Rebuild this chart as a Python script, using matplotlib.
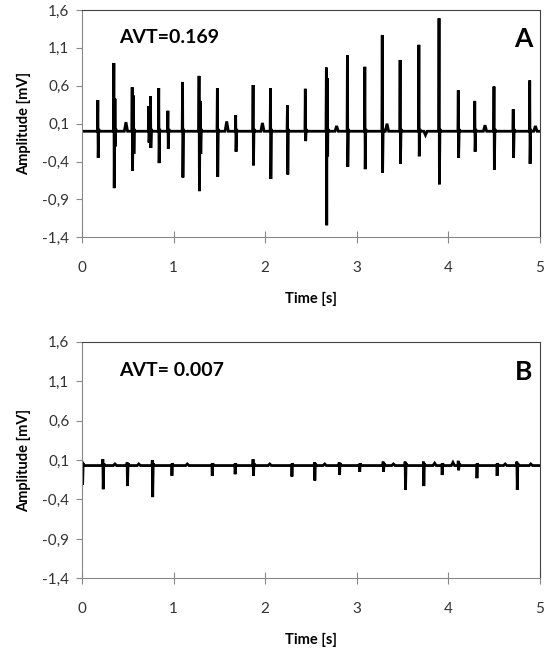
import matplotlib
matplotlib.use('Agg')
import matplotlib.pyplot as plt

plt.rcParams['font.family'] = ['Lato', 'DejaVu Sans']

# panel A: spike times [s], positive and negative peaks [mV]
a_times = [0.175, 0.35, 0.362, 0.55, 0.565, 0.73, 0.75, 0.84, 0.94, 1.10, 1.28, 1.295,
           1.48, 1.68, 1.87, 2.06, 2.245, 2.44, 2.67, 2.68, 2.90, 3.09, 3.28, 3.475,
           3.68, 3.90, 4.11, 4.29, 4.50, 4.71, 4.89]
a_up = [0.41, 0.90, 0.43, 0.58, 0.47, 0.33, 0.46, 0.57, 0.27, 0.65, 0.73, 0.40,
        0.57, 0.21, 0.61, 0.57, 0.34, 0.56, 0.84, 0.70, 1.00, 0.85, 1.27, 0.94,
        1.14, 1.49, 0.54, 0.40, 0.59, 0.29, 0.67]
a_down = [-0.35, -0.75, -0.20, -0.52, -0.30, -0.15, -0.22, -0.42, -0.23, -0.61, -0.79, -0.30,
          -0.60, -0.27, -0.45, -0.63, -0.57, -0.13, -1.24, -0.33, -0.47, -0.50, -0.55, -0.43,
          -0.33, -0.70, -0.35, -0.27, -0.51, -0.35, -0.43]
a_bump_t = [0.48, 1.58, 1.97, 2.78, 3.33, 3.75, 4.40, 4.95]
a_bump_v = [0.12, 0.13, 0.11, 0.07, 0.10, -0.05, 0.08, 0.07]

# panel B
b_times = [0.005, 0.23, 0.495, 0.77, 0.98, 1.42, 1.67, 1.87, 2.29, 2.54, 2.81,
           3.03, 3.29, 3.53, 3.73, 3.93, 4.11, 4.31, 4.53, 4.75]
b_up = [0.08, 0.11, 0.07, 0.10, 0.05, 0.05, 0.05, 0.11, 0.05, 0.07, 0.07,
        0.05, 0.08, 0.08, 0.08, 0.05, 0.09, 0.05, 0.05, 0.08]
b_down = [-0.21, -0.27, -0.23, -0.37, -0.10, -0.10, -0.08, -0.10, -0.11, -0.16, -0.09,
          -0.05, -0.05, -0.28, -0.23, -0.09, -0.03, -0.13, -0.10, -0.28]
b_bump_t = [0.36, 0.62, 1.15, 2.05, 2.65, 3.40, 3.85, 4.05, 4.62, 4.90]
b_bump_v = [0.05, 0.05, 0.05, 0.05, 0.05, 0.05, 0.06, 0.07, 0.05, 0.05]

ytick_vals = [-1.4, -0.9, -0.4, 0.1, 0.6, 1.1, 1.6]
ytick_labels = ['-1,4', '-0,9', '-0,4', '0,1', '0,6', '1,1', '1,6']
xtick_vals = [0, 1, 2, 3, 4, 5]


def build_trace(times, ups, downs, bump_t, bump_v, base):
    pts = [(0.0, base), (5.0, base)]
    for t, u, d in zip(times, ups, downs):
        pts += [(t - 0.006, base), (t - 0.002, u), (t + 0.002, d),
                (t + 0.008, base + 0.03), (t + 0.014, base)]
    for t, v in zip(bump_t, bump_v):
        pts += [(t - 0.018, base), (t, v), (t + 0.018, base)]
    pts = [p for p in pts if 0 <= p[0] <= 5]
    pts.sort()
    return [p[0] for p in pts], [p[1] for p in pts]


fig = plt.figure(figsize=(5.44, 6.54), dpi=100)
ax_a = fig.add_axes([0.1507, 0.6370, 0.8419, 0.3478])
ax_b = fig.add_axes([0.1507, 0.1156, 0.8419, 0.3620])

panels = [
    (ax_a, build_trace(a_times, a_up, a_down, a_bump_t, a_bump_v, 0.0), 'AVT=0.169', 'A'),
    (ax_b, build_trace(b_times, b_up, b_down, b_bump_t, b_bump_v, 0.03), 'AVT= 0.007', 'B'),
]

for ax, (x, y), avt, letter in panels:
    ax.plot(x, y, color='black', lw=2.0, solid_joinstyle='miter')
    ax.set_xlim(0, 5)
    ax.set_ylim(-1.4, 1.6)
    ax.set_yticks(ytick_vals)
    ax.set_yticklabels(ytick_labels)
    ax.set_xticks(xtick_vals)
    ax.tick_params(axis='y', direction='out', length=4, color='#888888',
                   labelsize=11, labelcolor='#333333', pad=5)
    ax.tick_params(axis='x', direction='inout', length=8, color='#888888',
                   labelsize=11, labelcolor='#333333', pad=13)
    for s in ['left', 'bottom']:
        ax.spines[s].set_color('#888888')
    for s in ['top', 'right']:
        ax.spines[s].set_color('#444444')
    ax.set_xlabel('Time [s]', fontsize=10.5, fontweight='bold', labelpad=12)
    ax.set_ylabel('Amplitude [mV]', fontsize=10.5, fontweight='bold', labelpad=8)
    ax.text(0.40, 1.24, avt, fontsize=14, fontweight='bold', va='center', ha='left')
    ax.text(4.82, 1.22, letter, fontsize=19, fontweight='bold', va='center', ha='center')

fig.savefig('out.png', dpi=100)
